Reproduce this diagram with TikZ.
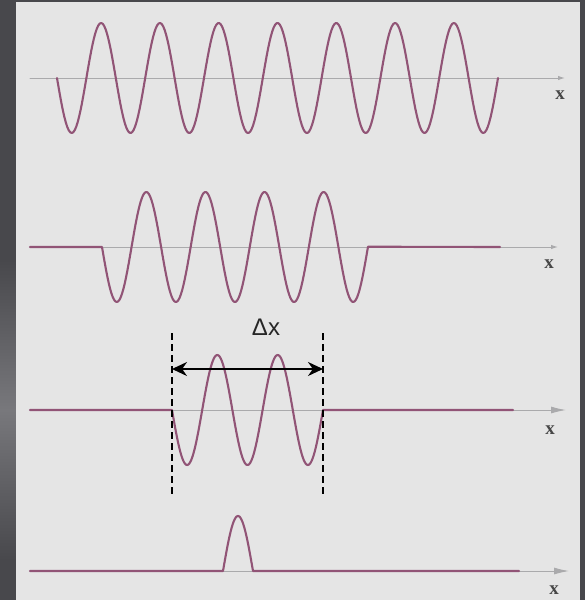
\documentclass[tikz,border=0pt]{standalone}
\usepackage{fontspec}
\setmainfont{Liberation Serif}
\setsansfont{Liberation Sans}
\usetikzlibrary{arrows.meta}
\definecolor{framegray}{RGB}{72,72,76}
\definecolor{framelight}{RGB}{120,120,124}
\definecolor{panelgray}{RGB}{229,229,229}
\definecolor{axisgray}{RGB}{170,170,172}
\definecolor{wavepink}{RGB}{145,84,118}
\begin{document}
\begin{tikzpicture}[x=1pt,y=-1pt,line join=round,line cap=round,
	axis/.style={draw=axisgray,line width=1pt},
	smalltip/.style={-{Latex[length=7pt,width=4.5pt]}},
	bigtip/.style={-{Latex[length=15pt,width=7pt]}},
	wave/.style={draw=wavepink,line width=2.1pt},
	xlabel/.style={font=\bfseries\fontsize{19}{19}\selectfont,text=black!72,inner sep=0pt},
	cut/.style={draw=black,line width=1.6pt,dash pattern=on 7pt off 4pt,line cap=butt}]
	\fill[framegray] (0,0) rectangle (585,600);
	\shade[top color=framegray,bottom color=framegray,middle color=framelight] (0,260) rectangle (16,560);
	\fill[panelgray] (16,2) rectangle (580,600);
	\useasboundingbox (0,0) rectangle (585,600);
	\foreach \n/\y/\xe/\tip in {a/78/565/smalltip,b/247/558/smalltip,c/410/566/bigtip,d/571/569/bigtip}{
		\coordinate (o\n) at (30,\y);
		\coordinate (e\n) at (\xe,\y);
		\draw[axis,\tip] (o\n) -- (e\n);
	}
	\draw[wave] plot[samples=300,domain=57:498,variable=\t] (\t,{78+55*sin((\t-57)/58.8*360)});
	\draw[wave] (ob)--(102,247)--plot[samples=200,domain=102:368,variable=\t] (\t,{247+55*sin((\t-102)/59.1*360)})--(500,247);
	\draw[wave] (oc)--(172,410)--plot[samples=150,domain=172:323,variable=\t] (\t,{410+55*sin((\t-172)/60.4*360)})--(513,410);
	\draw[wave] (od)--(223,571)--plot[samples=60,domain=223:253,variable=\t] (\t,{571-55*sin((\t-223)/30*180)})--(519,571);
	\node[xlabel] (xa) at (560,95) {x};
	\node[xlabel] (xb) at (549,264) {x};
	\node[xlabel] (xc) at (550,430) {x};
	\node[xlabel] (xd) at (554,590) {x};
	\coordinate (lt) at (172,333);
	\coordinate (lb) at (172,495);
	\coordinate (rt) at (323,333);
	\coordinate (rb) at (323,495);
	\draw[cut] (lt)--(lb) (rt)--(rb);
	\coordinate (al) at (172,369);
	\coordinate (ar) at (323,369);
	\draw[line width=1.8pt,{Stealth[length=15pt,width=14pt]}-{Stealth[length=15pt,width=14pt]}] (al)--(ar);
	\node[font=\sffamily\fontsize{24}{24}\selectfont,text=black!85,inner sep=0pt] (dx) at (266,327) {Δx};
\end{tikzpicture}
\end{document}
